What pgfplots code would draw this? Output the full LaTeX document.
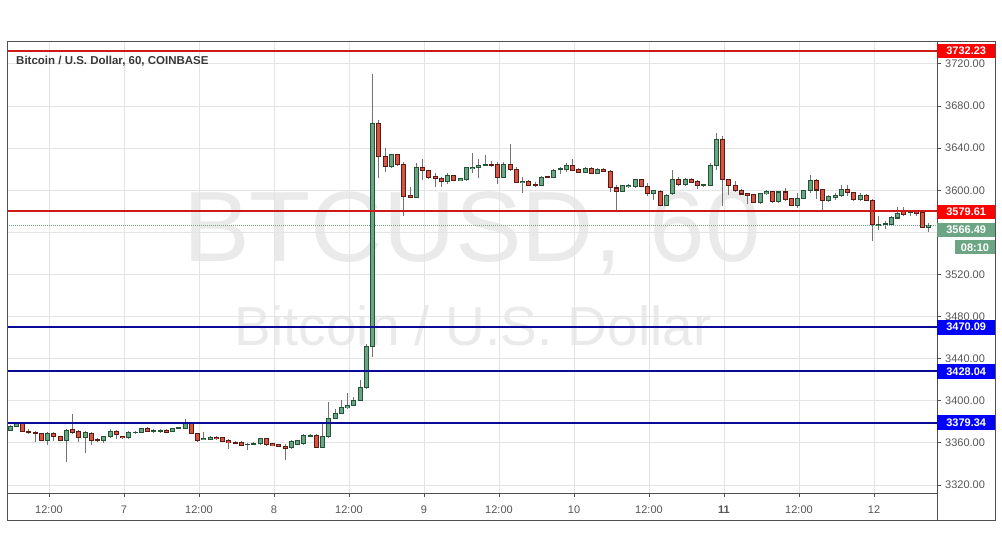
\documentclass[border=0pt]{standalone}
\usepackage{pgfplots}
\usepackage{pgfplotstable}
\pgfplotsset{compat=1.18}
\usepackage{fontspec}
\setmainfont{Liberation Sans}

\definecolor{upfill}{HTML}{6BA583}
\definecolor{upline}{HTML}{225437}
\definecolor{dnfill}{HTML}{D75442}
\definecolor{dnline}{HTML}{5B1A13}
\definecolor{wickc}{HTML}{737375}
\definecolor{framec}{RGB}{80,80,80}
\definecolor{gridc}{RGB}{228,228,228}
\definecolor{tickc}{RGB}{85,85,85}
\definecolor{wmc}{RGB}{234,234,234}
\definecolor{navyline}{RGB}{10,10,150}
\definecolor{redline}{RGB}{205,25,25}
\definecolor{titlec}{RGB}{55,55,55}

% hourly candles, n = hour index from the first bar
\pgfplotstableread{
n o h l c
0 3372.2 3377.0 3371.0 3375.4
1 3375.4 3380.0 3375.0 3379.2
6 3362.6 3370.0 3358.4 3368.6
9 3362.6 3373.0 3341.4 3372.2
12 3364.8 3371.0 3350.4 3369.6
15 3362.6 3367.0 3360.0 3365.8
16 3365.8 3372.8 3364.8 3370.6
19 3364.8 3371.0 3364.0 3369.6
20 3369.6 3371.0 3368.6 3370.2
21 3369.6 3374.0 3369.0 3373.4
23 3371.5 3373.4 3369.6 3371.8
24 3371.5 3373.4 3369.6 3371.8
26 3370.6 3374.0 3370.0 3373.4
27 3373.8 3375.4 3372.8 3374.4
28 3374.0 3383.0 3372.8 3379.2
31 3363.0 3370.0 3362.6 3364.2
32 3363.2 3366.4 3362.6 3365.5
38 3358.4 3360.0 3353.0 3358.8
39 3358.4 3361.0 3358.0 3359.4
40 3359.0 3364.5 3357.8 3363.8
45 3355.2 3362.6 3354.6 3361.6
46 3358.4 3363.2 3357.8 3362.2
47 3359.0 3368.0 3358.4 3367.0
48 3366.4 3368.0 3365.8 3367.4
50 3355.8 3380.0 3355.2 3365.8
51 3365.8 3399.0 3365.0 3383.0
52 3383.0 3392.0 3382.4 3388.0
53 3387.7 3400.6 3387.0 3393.4
54 3393.4 3407.6 3392.5 3395.6
55 3395.6 3403.8 3395.0 3400.6
56 3400.0 3419.6 3400.0 3412.3
57 3412.3 3454.4 3411.4 3451.2
58 3451.2 3710.5 3441.7 3663.7
61 3622.6 3634.3 3621.0 3634.3
65 3593.5 3625.8 3592.5 3622.0
70 3608.4 3616.4 3606.2 3614.0
72 3609.6 3611.5 3609.0 3610.9
73 3610.0 3622.6 3609.3 3622.0
74 3620.7 3635.3 3616.3 3622.0
75 3622.0 3630.0 3611.5 3624.0
76 3623.9 3633.7 3623.3 3624.8
79 3612.5 3627.3 3611.5 3624.8
82 3607.0 3612.3 3597.5 3608.2
85 3605.0 3614.0 3604.4 3612.6
87 3612.6 3620.2 3611.8 3618.9
88 3619.5 3622.2 3615.3 3620.5
89 3620.2 3625.5 3617.0 3623.3
92 3617.0 3622.0 3616.4 3621.0
94 3616.4 3621.0 3616.0 3620.2
98 3599.0 3605.3 3598.4 3604.4
99 3603.8 3605.6 3602.2 3605.0
100 3603.8 3610.7 3602.2 3610.0
103 3596.8 3600.6 3591.2 3599.7
105 3585.5 3596.1 3584.9 3595.0
106 3596.8 3619.5 3596.0 3610.7
108 3605.4 3611.8 3604.4 3610.0
111 3604.4 3605.8 3603.1 3605.4
112 3605.0 3625.8 3604.4 3623.3
113 3623.3 3654.2 3618.9 3648.5
120 3588.4 3597.8 3586.8 3596.9
121 3596.9 3600.3 3595.3 3598.8
123 3589.4 3599.4 3588.4 3598.4
126 3585.3 3597.2 3582.8 3592.2
127 3592.2 3600.3 3591.5 3599.4
128 3599.4 3615.0 3597.2 3609.4
131 3590.0 3595.3 3589.0 3594.0
132 3593.0 3597.2 3590.6 3595.3
133 3595.3 3604.7 3594.0 3601.0
136 3591.0 3597.8 3590.0 3594.7
139 3566.5 3576.0 3562.5 3567.5
140 3567.2 3570.6 3562.8 3568.0
141 3567.2 3575.3 3566.5 3574.4
142 3573.7 3583.8 3572.8 3578.4
144 3579.0 3579.7 3575.3 3579.7
147 3565.0 3569.1 3560.3 3566.5
}\up

\pgfplotstableread{
n o h l c
2 3379.2 3380.0 3370.0 3370.6
3 3370.6 3372.8 3368.0 3369.6
4 3369.9 3371.0 3360.6 3369.3
5 3368.6 3369.6 3361.6 3362.6
7 3368.6 3370.0 3361.6 3365.8
8 3365.8 3367.0 3361.6 3362.6
10 3372.8 3387.2 3368.0 3369.6
11 3370.6 3372.0 3360.6 3364.8
13 3368.6 3370.0 3358.0 3362.6
14 3363.0 3364.5 3361.0 3362.6
17 3370.6 3372.2 3364.0 3367.7
18 3366.4 3367.0 3364.0 3364.8
22 3373.4 3375.0 3371.0 3371.2
25 3372.0 3373.0 3369.6 3370.2
29 3379.2 3379.8 3368.0 3368.6
30 3369.0 3369.6 3360.6 3362.6
33 3365.2 3367.0 3362.6 3364.0
34 3364.8 3365.8 3360.6 3361.6
35 3362.2 3363.8 3354.6 3360.0
36 3360.4 3361.6 3359.0 3360.0
37 3360.6 3361.6 3356.8 3358.0
41 3363.8 3364.5 3357.4 3358.4
42 3359.0 3359.4 3357.4 3357.8
43 3358.4 3358.8 3356.5 3357.0
44 3357.0 3359.4 3344.0 3354.9
49 3367.0 3368.0 3355.2 3355.8
59 3663.7 3667.0 3611.5 3632.1
60 3632.1 3640.0 3617.0 3622.6
62 3634.3 3634.3 3623.0 3624.8
63 3624.8 3626.7 3575.2 3594.2
64 3595.1 3603.0 3592.5 3593.2
66 3622.0 3629.6 3610.0 3618.8
67 3618.8 3619.4 3611.0 3612.5
68 3613.0 3616.0 3603.6 3611.5
69 3611.5 3613.0 3603.6 3608.4
71 3614.0 3614.6 3608.4 3609.3
77 3624.8 3628.3 3622.6 3624.2
78 3624.8 3627.0 3606.2 3612.5
80 3624.8 3644.1 3618.8 3619.4
81 3619.4 3622.5 3606.5 3607.0
83 3608.2 3609.5 3604.4 3605.0
84 3605.4 3607.6 3603.1 3604.7
86 3613.2 3613.8 3611.8 3612.6
90 3623.3 3630.0 3618.0 3618.9
91 3619.5 3621.0 3616.4 3617.0
93 3621.0 3622.0 3616.0 3616.4
95 3620.2 3621.0 3617.5 3618.0
96 3618.0 3619.5 3598.0 3603.1
97 3602.2 3605.3 3580.0 3599.0
101 3610.0 3610.7 3603.1 3603.8
102 3603.8 3607.0 3594.3 3596.8
104 3599.0 3600.6 3584.9 3585.5
107 3610.7 3612.6 3604.4 3605.4
109 3610.0 3611.8 3606.5 3607.6
110 3608.2 3609.5 3601.5 3604.4
114 3648.5 3651.7 3585.0 3610.0
115 3610.0 3610.7 3596.0 3604.4
116 3604.4 3608.5 3598.7 3599.4
117 3600.0 3601.0 3595.6 3596.5
118 3596.9 3597.5 3587.0 3595.3
119 3596.0 3596.6 3587.7 3588.4
122 3598.8 3599.4 3588.4 3589.4
124 3598.4 3602.5 3590.0 3591.0
125 3592.2 3593.0 3585.3 3586.0
129 3609.4 3611.0 3592.0 3600.3
130 3601.0 3601.6 3580.6 3590.0
134 3601.0 3604.7 3595.0 3597.8
135 3597.8 3598.4 3590.0 3591.0
137 3595.3 3596.2 3589.4 3590.0
138 3590.6 3591.5 3551.6 3567.2
143 3579.7 3583.8 3575.9 3577.5
145 3579.7 3579.7 3575.3 3578.4
146 3579.0 3579.7 3565.0 3565.0
}\down

\pgfplotsset{
  candle/.style 2 args={draw=none, mark=none, forget plot,
    error bars/.cd, y dir=both, y explicit, error mark=none,
    error bar style={draw=#1, line width=#2}},
}

\begin{document}
\begin{tikzpicture}[x=1pt,y=1pt]
\useasboundingbox (0,0) rectangle (1002,558);
\node[text=wmc, font=\fontsize{100}{100}\selectfont, anchor=base, inner sep=0pt] at (472,296) {BTCUSD, 60};
\node[text=wmc, font=\fontsize{55}{55}\selectfont, anchor=base, inner sep=0pt] at (473,213) {Bitcoin / U.S. Dollar};

\begin{axis}[
  at={(7pt,65pt)}, anchor=south west,
  scale only axis, width=930pt, height=451pt,
  xmin=-0.48, xmax=148.32, ymin=3312.4, ymax=3740.9,
  axis line style={draw=framec, line width=1pt},
  grid=major, major grid style={draw=gridc, line width=1pt},
  xtick={6.24,18.24,30.24,42.24,54.24,66.24,78.24,90.24,102.24,114.24,126.24,138.24},
  xticklabels={12:00,7,12:00,8,12:00,9,12:00,10,12:00,\textbf{11},12:00,12},
  ytick={3320,3360,3400,3440,3480,3520,3600,3640,3680,3720},
  extra y ticks={3560}, extra y tick labels={},
  xtick pos=bottom, ytick pos=right, yticklabel pos=right,
  tick align=outside, major tick length=4pt,
  tick style={draw=framec, line width=1pt},
  /pgf/number format/assume math mode=true,
  ticklabel style={font=\fontsize{11}{13}\selectfont, text=tickc, inner sep=0pt},
  xticklabel style={anchor=base, yshift=-16pt},
  yticklabel style={anchor=west, xshift=4pt,
    /pgf/number format/.cd, fixed, fixed zerofill, precision=2, 1000 sep={}},
  clip mode=individual,
]
% wicks
\addplot[candle={wickc}{1pt}] table[x=n, y expr={(\thisrow{h}+\thisrow{l})/2}, y error expr={(\thisrow{h}-\thisrow{l})/2}] {\up};
\addplot[candle={wickc}{1pt}] table[x=n, y expr={(\thisrow{h}+\thisrow{l})/2}, y error expr={(\thisrow{h}-\thisrow{l})/2}] {\down};
% bodies: outline then fill
\addplot[candle={upline}{5pt}] table[x=n, y expr={(\thisrow{o}+\thisrow{c})/2}, y error expr={abs(\thisrow{o}-\thisrow{c})/2+0.5}] {\up};
\addplot[candle={upfill}{3pt}] table[x=n, y expr={(\thisrow{o}+\thisrow{c})/2}, y error expr={max(abs(\thisrow{o}-\thisrow{c})/2-0.5,0)}] {\up};
\addplot[candle={dnline}{5pt}] table[x=n, y expr={(\thisrow{o}+\thisrow{c})/2}, y error expr={abs(\thisrow{o}-\thisrow{c})/2+0.5}] {\down};
\addplot[candle={dnfill}{3pt}] table[x=n, y expr={(\thisrow{o}+\thisrow{c})/2}, y error expr={max(abs(\thisrow{o}-\thisrow{c})/2-0.5,0)}] {\down};

% level line ends
\coordinate (qA) at (axis cs:-0.48,3732.23);  \coordinate (pA) at (axis cs:148.32,3732.23);
\coordinate (qB) at (axis cs:-0.48,3579.61);  \coordinate (pB) at (axis cs:148.32,3579.61);
\coordinate (qC) at (axis cs:-0.48,3566.49);  \coordinate (pC) at (axis cs:148.32,3566.49);
\coordinate (qD) at (axis cs:-0.48,3470.09);  \coordinate (pD) at (axis cs:148.32,3470.09);
\coordinate (qE) at (axis cs:-0.48,3428.04);  \coordinate (pE) at (axis cs:148.32,3428.04);
\coordinate (qF) at (axis cs:-0.48,3379.34);  \coordinate (pF) at (axis cs:148.32,3379.34);
\end{axis}

% level lines, drawn as strips snapped to whole pixel rows
\fill[redline] ([yshift=-0.88pt]qA) rectangle ([yshift=1.12pt]pA);
\fill[redline] ([yshift=-0.24pt]qB) rectangle ([yshift=1.76pt]pB);
\draw[upfill, line width=1pt, densely dotted] (qC) -- (pC);
\fill[navyline] ([yshift=-0.97pt]qD) rectangle ([yshift=1.03pt]pD);
\fill[navyline] ([yshift=-0.71pt]qE) rectangle ([yshift=1.29pt]pE);
\fill[navyline] ([yshift=-1.46pt]qF) rectangle ([yshift=0.54pt]pF);

\tikzset{pbox/.style={anchor=west, minimum width=58pt, minimum height=14pt, inner sep=0pt, text=white, font=\fontsize{11}{13}\selectfont\bfseries}}
\node[pbox, fill=red] at (pA) {3732.23};
\node[pbox, fill=red] at (pB) {3579.61};
\node[pbox, fill=upfill] at ([yshift=-4pt]pC) {3566.49};
\node[pbox, fill=upfill, minimum width=40pt, anchor=center] at (975,310.5) {08:10};
\node[pbox, fill=blue, minimum height=15pt] at (pD) {3470.09};
\node[pbox, fill=blue, minimum height=15pt] at (pE) {3428.04};
\node[pbox, fill=blue, minimum height=15pt] at (pF) {3379.34};

% outer frame
\draw[framec, line width=1pt] (7,38) rectangle (995,516);
\draw[framec, line width=1pt] (937,38) -- (937,65);

\node[anchor=base west, inner sep=0pt, text=titlec, font=\fontsize{11.5}{13}\selectfont\bfseries] at (16,493) {Bitcoin / U.S. Dollar, 60, COINBASE};
\end{tikzpicture}
\end{document}
